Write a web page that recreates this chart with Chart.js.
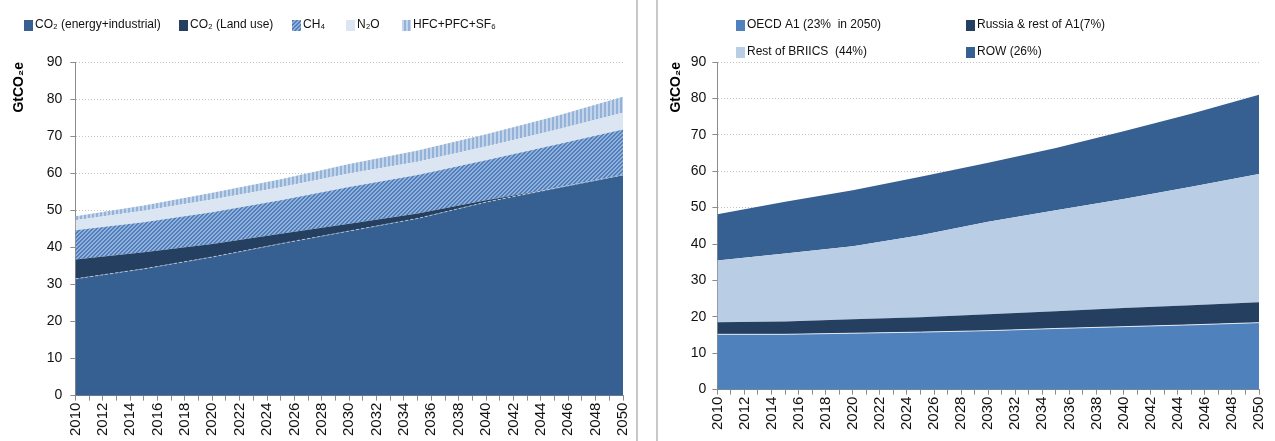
<!DOCTYPE html>
<html>
<head>
<meta charset="utf-8">
<script src="https://cdn.jsdelivr.net/npm/chart.js@4"></script>
<style>
  body { margin: 0; background: #fff; }
  #leftBox { position: absolute; left: 0; top: 0; width: 636px; height: 441px; border-right: 2px solid #c8c8c8; }
  #rightBox { position: absolute; left: 656px; top: 0; width: 617px; height: 441px; border-left: 2px solid #c8c8c8; }
</style>
</head>
<body>
<div id="leftBox"><canvas id="gases" width="636" height="441"></canvas></div>
<div id="rightBox"><canvas id="regions" width="617" height="441"></canvas></div>
<script>
const years = [2010, 2015, 2020, 2025, 2030, 2035, 2040, 2045, 2050];

// left panel, by gas (GtCO2e, stacked)
const co2Energy = [31.5, 34.2, 37.4, 41.0, 44.4, 47.8, 52.2, 55.9, 59.5];
const co2Land   = [5.2, 4.5, 3.5, 2.7, 2.0, 1.3, 0.5, 0, 0];
const ch4       = [7.9, 8.1, 8.6, 9.0, 9.9, 10.4, 10.8, 11.7, 12.3];
const n2o       = [2.7, 3.1, 3.4, 3.5, 3.6, 3.6, 3.7, 4.0, 4.5];
const fgases    = [1.1, 1.4, 1.8, 2.2, 2.6, 3.0, 3.3, 3.7, 4.3];

// right panel, by region (GtCO2e, stacked)
const oecdA1    = [15.2, 15.2, 15.5, 15.8, 16.2, 16.8, 17.3, 17.8, 18.4];
const russiaA1  = [3.3, 3.5, 3.8, 4.1, 4.5, 4.7, 5.1, 5.4, 5.6];
const briics    = [17.0, 18.7, 20.1, 22.5, 25.4, 27.8, 30.0, 32.5, 35.2];
const restWorld = [12.7, 14.2, 15.4, 16.1, 16.2, 17.1, 18.6, 20.1, 21.8];

const yTicks = [0, 10, 20, 30, 40, 50, 60, 70, 80, 90];

const pts = vals => vals.map((v, i) => ({x: years[i], y: v}));

// small tiled fills for the hatched series
function hatch(bg, fg, kind) {
  const c = document.createElement('canvas');
  c.width = 4; c.height = 4;
  const g = c.getContext('2d');
  g.fillStyle = bg;
  g.fillRect(0, 0, 4, 4);
  g.fillStyle = fg;
  for (let x = 0; x < 4; x++) {
    for (let y = 0; y < 4; y++) {
      const on = kind === 'diag' ? (x + y) % 4 < 2 : x < 2;
      if (on) g.fillRect(x, y, 1, 1);
    }
  }
  return g.createPattern(c, 'repeat');
}

// legend drawn at fixed spots (Excel-like grid)
const spotLegend = {
  id: 'spotLegend',
  afterDraw(chart, args, opts) {
    const ctx = chart.ctx;
    ctx.save();
    ctx.font = opts.font;
    ctx.textBaseline = 'middle';
    chart.data.datasets.forEach((ds, i) => {
      const s = opts.spots[i];
      ctx.fillStyle = ds.backgroundColor;
      ctx.fillRect(s[0], s[1] - 5, 9, 11);
      ctx.fillStyle = '#111';
      ctx.fillText(ds.label, s[0] + 11, s[1]);
    });
    ctx.restore();
  }
};

function axes(titlePad, tickPad) {
  return {
    x: {
      type: 'linear', min: 2010, max: 2050,
      border: {color: '#8c8c8c', width: 1},
      grid: {drawOnChartArea: false, drawTicks: true, tickLength: 5, tickColor: '#8c8c8c'},
      ticks: {
        stepSize: 1, autoSkip: false, minRotation: 90, maxRotation: 90, padding: 2,
        color: '#111', font: {family: 'Liberation Sans', size: 15},
        callback: v => (v % 2 === 0 ? String(v) : '')
      },
      // let the last rotated label hang into the right margin
      afterFit: s => { s.paddingRight = 2; }
    },
    y: {
      stacked: true, min: 0, max: 90,
      afterBuildTicks: s => { s.ticks = yTicks.map(v => ({value: v})); },
      border: {color: '#8c8c8c', width: 1, dash: [1, 2]},
      grid: {color: '#c4c4c4', tickColor: '#8c8c8c', tickLength: 5, tickBorderDash: []},
      ticks: {padding: tickPad, color: '#111', font: {family: 'Liberation Sans', size: 14}},
      title: {
        display: true, text: 'GtCO₂e', align: 'end', color: '#000',
        font: {family: 'Liberation Sans', size: 14, weight: 'bold'},
        padding: titlePad
      }
    }
  };
}

new Chart(document.getElementById('gases'), {
  type: 'line',
  data: {
    datasets: [
      {label: 'CO₂ (energy+industrial)', data: pts(co2Energy), backgroundColor: '#376092',
       borderColor: 'rgba(255,255,255,0.55)', borderWidth: 1, borderDash: [3, 2], fill: 'origin'},
      {label: 'CO₂ (Land use)', data: pts(co2Land), backgroundColor: '#243f60', borderWidth: 0, fill: '-1'},
      {label: 'CH₄', data: pts(ch4), backgroundColor: hatch('#93b1d8', '#4f7fbd', 'diag'), borderWidth: 0, fill: '-1'},
      {label: 'N₂O', data: pts(n2o), backgroundColor: '#dce6f2', borderWidth: 0, fill: '-1'},
      {label: 'HFC+PFC+SF₆', data: pts(fgases), backgroundColor: hatch('#c3d5ec', '#95b3d7', 'vert'), borderWidth: 0, fill: '-1'}
    ]
  },
  plugins: [spotLegend],
  options: {
    responsive: false, animation: false,
    elements: {point: {radius: 0}, line: {tension: 0}},
    layout: {padding: {top: 62, right: 13, bottom: 3, left: 2}},
    scales: axes({top: 9, bottom: 11}, 8),
    plugins: {
      legend: {display: false}, tooltip: {enabled: false},
      spotLegend: {font: '12px "Liberation Sans"', spots: [[24, 25], [179, 25], [292, 25], [346, 25], [402, 25]]}
    }
  }
});

new Chart(document.getElementById('regions'), {
  type: 'line',
  data: {
    datasets: [
      {label: 'OECD A1 (23%  in 2050)', data: pts(oecdA1), backgroundColor: '#4f81bd',
       borderColor: 'rgba(255,255,255,0.8)', borderWidth: 1, fill: 'origin'},
      {label: 'Russia & rest of A1(7%)', data: pts(russiaA1), backgroundColor: '#243f60', borderWidth: 0, fill: '-1'},
      {label: 'Rest of BRIICS  (44%)', data: pts(briics), backgroundColor: '#b9cde5', borderWidth: 0, fill: '-1'},
      {label: 'ROW (26%)', data: pts(restWorld), backgroundColor: '#376092', borderWidth: 0, fill: '-1'}
    ]
  },
  plugins: [spotLegend],
  options: {
    responsive: false, animation: false,
    elements: {point: {radius: 0}, line: {tension: 0}},
    layout: {padding: {top: 62, right: 16, bottom: 9, left: 4}},
    scales: axes({top: 6, bottom: 0}, 6),
    plugins: {
      legend: {display: false}, tooltip: {enabled: false},
      spotLegend: {font: '12px "Liberation Sans"', spots: [[78, 25], [308, 25], [78, 52], [308, 52]]}
    }
  }
});
</script>
</body>
</html>
